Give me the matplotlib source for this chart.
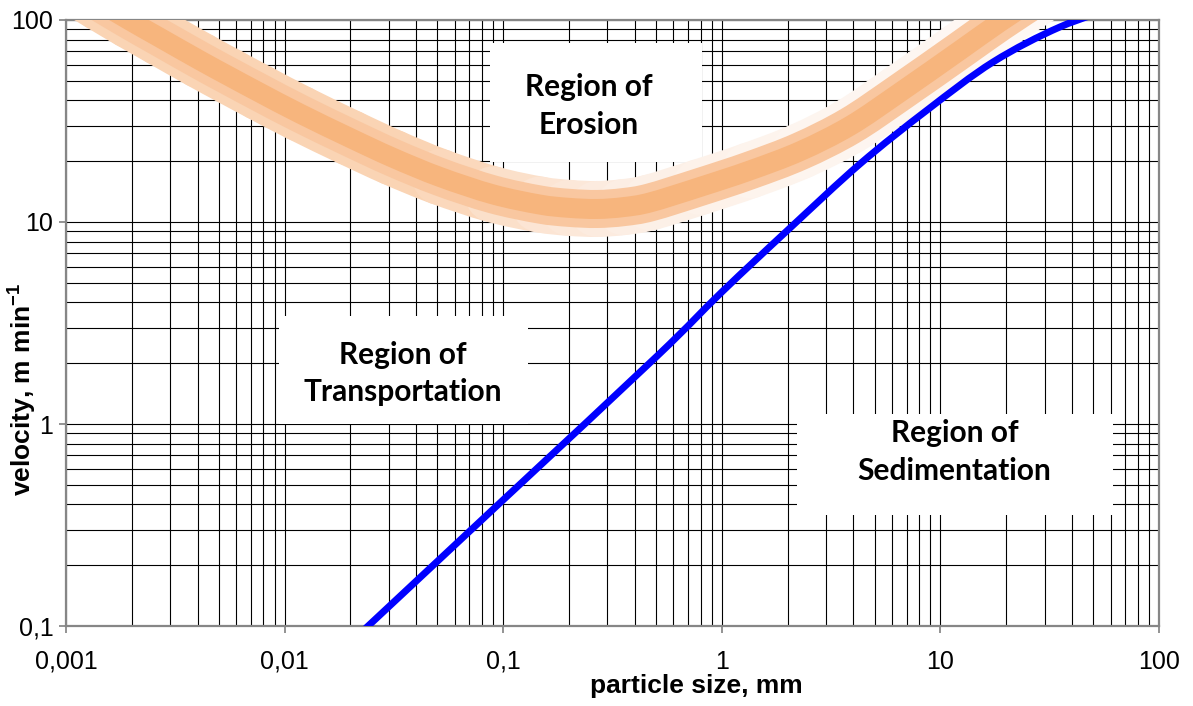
import numpy as np
import matplotlib
matplotlib.use("Agg")
import matplotlib.pyplot as plt
from matplotlib.colors import to_rgb
from matplotlib.patches import Rectangle, PathPatch
from matplotlib.path import Path
from matplotlib.ticker import FixedLocator, FixedFormatter, NullFormatter

plt.rcParams['font.family'] = ['Liberation Sans', 'DejaVu Sans']
plt.rcParams['mathtext.fontset'] = 'custom'
plt.rcParams['mathtext.rm'] = 'Liberation Sans'
plt.rcParams['mathtext.bf'] = 'Liberation Sans:bold'

# erosion threshold: centre of the shaded band (particle size mm, velocity m/min)
erosion_size = [0.001, 0.00143, 0.00196, 0.00269, 0.0041, 0.00562, 0.00772,
                0.01176, 0.0199, 0.0313, 0.0514, 0.0897, 0.147, 0.2, 0.269,
                0.355, 0.47, 0.794, 1.345, 2.28, 3.86, 6.53, 12.3, 18.7, 28.6,
                43.5]
erosion_velocity = [153.5, 121.6, 99.3, 81.7, 63.1, 52.4, 43.6,
                    34.4, 26.1, 20.8, 16.7, 13.7, 12.2, 11.75, 11.6,
                    11.85, 12.5, 14.9, 18.0, 22.4, 29.9, 43.8, 70.8, 97.5, 132,
                    177]

# settling (sedimentation) velocity
settling_size = [0.0199, 0.1, 0.506, 1.0, 2.05, 4.29, 8.69, 17.4, 35.2, 66.4]
settling_velocity = [0.0824, 0.421, 2.17, 4.5, 9.33, 19.4, 35.8, 61.9, 92.3, 117]

x_ticks = [0.001, 0.01, 0.1, 1, 10, 100]
x_tick_labels = ['0,001', '0,01', '0,1', '1', '10', '100']
y_ticks = [0.1, 1, 10, 100]
y_tick_labels = ['0,1', '1', '10', '100']

region_labels = ['Region of\nErosion', 'Region of\nTransportation',
                 'Region of\nSedimentation']
# white label boxes in axes fraction: (x0, y0, x1, y1), text centre
region_boxes = [(0.388, 0.766, 0.582, 0.962), (0.195, 0.333, 0.423, 0.512),
                (0.669, 0.183, 0.958, 0.350)]
region_text_xy = [(0.4785, 0.858), (0.308, 0.417), (0.813, 0.287)]


def smooth_pieces(xs, ys):
    """Smoothed-line style: one cubic Bezier piece per pair of points,
    built in log-log space so it bends like the plotted curve."""
    p = np.column_stack([np.log10(xs), np.log10(ys)])
    ext = np.vstack([p[0], p, p[-1]])
    pieces = []
    for i in range(len(p) - 1):
        p0, p1, p2, p3 = ext[i], ext[i + 1], ext[i + 2], ext[i + 3]
        c1 = p1 + (p2 - p0) / 6.0
        c2 = p2 - (p3 - p1) / 6.0
        pieces.append(10 ** np.array([p1, c1, c2, p2]))
    return pieces


def smooth_path(xs, ys):
    pieces = smooth_pieces(xs, ys)
    verts = [pieces[0][0]]
    codes = [Path.MOVETO]
    for pc in pieces:
        verts.extend(pc[1:])
        codes.extend([Path.CURVE4] * 3)
    return Path(np.array(verts), codes)


def stroke(ax, path, color, lw, z):
    ax.add_patch(PathPatch(path, fill=False, edgecolor=color, linewidth=lw,
                           capstyle='round', joinstyle='round', zorder=z))


fig = plt.figure(figsize=(11.93, 7.06), dpi=100)
ax = fig.add_axes([0.0553, 0.1133, 0.9162, 0.8584])
ax.set_xscale('log')
ax.set_yscale('log')
ax.set_xlim(0.001, 100)
ax.set_ylim(0.1, 100)
ax.autoscale(False)

# grid on every decade and sub-decade line
ax.set_axisbelow(True)
ax.grid(which='both', color='black', linewidth=0.8)

for (x0, y0, x1, y1) in region_boxes:
    ax.add_patch(Rectangle((x0, y0), x1 - x0, y1 - y0, transform=ax.transAxes,
                           facecolor='white', edgecolor='none', zorder=2))

# erosion band: outer glow fades from peach on the left to near white on the right
stop_pos = [-3.0, -1.3, -0.8, -0.4, 0.3, 2.0]
stop_col = [to_rgb(c) for c in ['#FAD4B4', '#FAD4B4', '#FCE4D2', '#FCEEE4',
                                 '#FDF4EE', '#FEFAF7']]
for pc in smooth_pieces(erosion_size, erosion_velocity):
    m = np.log10(np.sqrt(pc[0, 0] * pc[3, 0]))
    col = [np.interp(m, stop_pos, [c[i] for c in stop_col]) for i in range(3)]
    piece = Path(pc, [Path.MOVETO, Path.CURVE4, Path.CURVE4, Path.CURVE4])
    stroke(ax, piece, col, 40.3, 3)

band = smooth_path(erosion_size, erosion_velocity)
stroke(ax, band, '#F9C7A0', 27.4, 4)
stroke(ax, band, '#F7B57D', 14.4, 5)

stroke(ax, smooth_path(settling_size, settling_velocity), '#0000FF', 5, 6)

for label, (tx, ty) in zip(region_labels, region_text_xy):
    ax.text(tx, ty, label, transform=ax.transAxes, ha='center', va='center',
            fontsize=21.5, fontweight='bold', family=['Lato', 'DejaVu Sans'],
            linespacing=1.4, zorder=7)

ax.xaxis.set_major_locator(FixedLocator(x_ticks))
ax.xaxis.set_major_formatter(FixedFormatter(x_tick_labels))
ax.xaxis.set_minor_formatter(NullFormatter())
ax.yaxis.set_major_locator(FixedLocator(y_ticks))
ax.yaxis.set_major_formatter(FixedFormatter(y_tick_labels))
ax.yaxis.set_minor_formatter(NullFormatter())
ax.tick_params(which='major', direction='out', length=5, width=1.2,
               color='#808080', labelsize=18)
ax.tick_params(axis='x', which='major', pad=12)
ax.tick_params(axis='y', which='major', pad=4)
ax.tick_params(which='minor', length=0)

for sp in ax.spines.values():
    sp.set_color('#868686')
    sp.set_linewidth(1.6)

ax.set_xlabel('particle size, mm', fontsize=19, fontweight='bold')
ax.set_ylabel(r'velocity, m min$^{\mathbf{-1}}$', fontsize=19, fontweight='bold')
ax.xaxis.set_label_coords(0.577, -0.08)
ax.yaxis.set_label_coords(-0.026, 0.391)

fig.savefig('out.png', dpi=100)
